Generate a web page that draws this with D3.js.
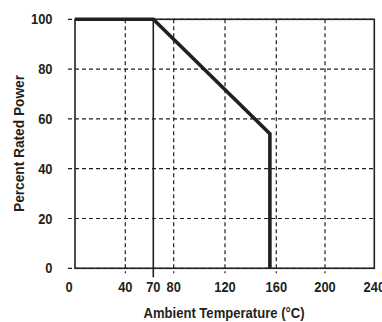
<!DOCTYPE html>
<html><head><meta charset="utf-8">
<script src="https://cdn.jsdelivr.net/npm/d3@7"></script>
<style>
body{margin:0;background:#fff;}
text{font-family:"Liberation Sans",Arial,sans-serif;font-weight:bold;fill:#231f20;}
</style></head><body>
<svg id="c" width="382" height="322"></svg>
<script>
const xTicks = [0, 40, 70, 80, 120, 160, 200, 240];
const xGrid = [40, 80, 120, 160, 200];
const yTicks = [0, 20, 40, 60, 80, 100];
const curveTemp = [0, 70, 155, 155];
const curvePower = [100, 100, 54, 0];
const xTitle = "Ambient Temperature (°C)";
const yTitle = "Percent Rated Power";

const svg = d3.select("#c");
const ink = "#231f20";
// hand-drawn original: tick positions are not perfectly linear
const x = d3.scaleLinear().domain(xTicks).range([75, 125.3, 153.3, 173.7, 225, 276.3, 325, 374.3]);
const y = d3.scaleLinear().domain([0, 100]).range([268.3, 19.3]);

// horizontal dashed grid
svg.append("g").selectAll("line").data(yTicks).join("line")
  .attr("x1", x(0) - 7).attr("x2", x(240))
  .attr("y1", d => y(d)).attr("y2", d => y(d))
  .attr("stroke", ink).attr("stroke-width", 1.2).attr("stroke-dasharray", "4,3");
// vertical dashed grid
svg.append("g").selectAll("line").data(xGrid).join("line")
  .attr("x1", d => x(d)).attr("x2", d => x(d))
  .attr("y1", y(100)).attr("y2", y(0) + 5)
  .attr("stroke", ink).attr("stroke-width", 1.2).attr("stroke-dasharray", "4,3");
// solid 70 line
svg.append("line").attr("x1", x(70)).attr("x2", x(70)).attr("y1", y(100)).attr("y2", y(0) + 9)
  .attr("stroke", ink).attr("stroke-width", 1.6);
// frame
svg.append("rect").attr("x", x(0)).attr("y", y(100)).attr("width", x(240) - x(0)).attr("height", y(0) - y(100))
  .attr("fill", "none").attr("stroke", ink).attr("stroke-width", 1.6);

// derating curve
const pts = curveTemp.map((t, i) => [t, curvePower[i]]);
svg.append("path").datum(pts)
  .attr("d", d3.line().x(d => x(d[0])).y(d => y(d[1])))
  .attr("fill", "none").attr("stroke", ink).attr("stroke-width", 3.6).attr("stroke-linejoin", "miter");

// x tick labels (condensed look)
svg.append("g").selectAll("text").data(xTicks).join("text")
  .attr("transform", d => `translate(${x(d) + (d === 0 ? -6 : 0)},292) scale(0.86,1)`)
  .attr("text-anchor", "middle").attr("font-size", 15).text(d => d);
// y tick labels
svg.append("g").selectAll("text").data(yTicks).join("text")
  .attr("transform", d => `translate(52.5,${y(d) + 5}) scale(0.86,1)`)
  .attr("text-anchor", "end").attr("font-size", 15).text(d => d);

// titles
svg.append("text").attr("x", 224).attr("y", 318).attr("text-anchor", "middle")
  .attr("font-size", 15).attr("textLength", 161).attr("lengthAdjust", "spacingAndGlyphs").text(xTitle);
svg.append("text").attr("transform", "translate(24,143.5) rotate(-90)").attr("text-anchor", "middle")
  .attr("font-size", 15).attr("textLength", 137).attr("lengthAdjust", "spacingAndGlyphs").text(yTitle);
</script>
</body></html>
